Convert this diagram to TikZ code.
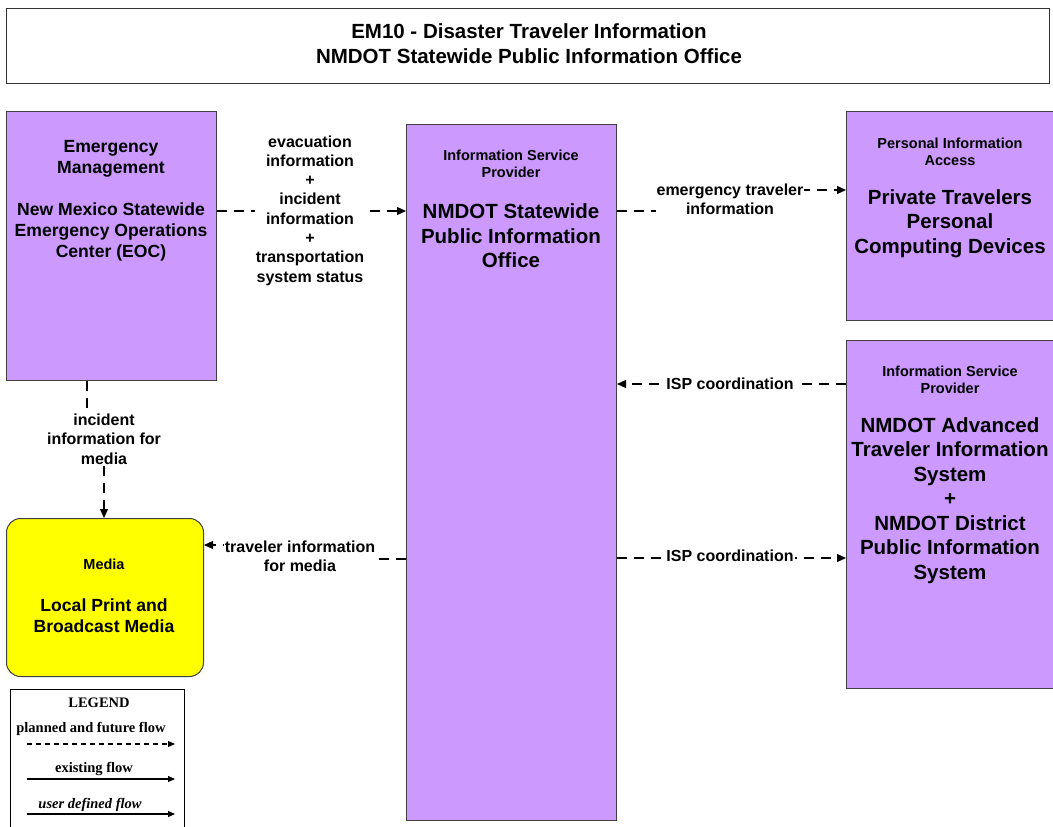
\documentclass[tikz,border=0pt]{standalone}
\usepackage{fontspec}
\setmainfont{Liberation Sans}
\newfontfamily\legfont{Liberation Serif}
\usetikzlibrary{arrows.meta}
\definecolor{purp}{RGB}{204,153,255}
\definecolor{yel}{RGB}{255,255,0}
\tikzset{
 box/.style={draw=black!75, line width=1pt, fill=purp, anchor=north west, inner sep=0pt},
 flow/.style={dash pattern=on 10pt off 7pt, line width=1.2pt, -{Triangle[length=9pt,width=8pt]}},
 lbl/.style={fill=white, font=\bfseries\fontsize{16}{19.3}\selectfont, align=center, inner sep=1pt},
 small/.style={font=\bfseries\fontsize{14.5}{17}\selectfont, align=center, inner sep=0pt},
 big/.style={font=\bfseries\fontsize{20.5}{24.5}\selectfont, align=center, inner sep=0pt},
 mid/.style={font=\bfseries\fontsize{17.6}{21}\selectfont, align=center, inner sep=0pt},
 legtxt/.style={font=\legfont\bfseries\fontsize{14.5}{16}\selectfont, inner sep=0pt},
 legarrow/.style={line width=1.1pt, -{Triangle[length=7pt,width=6pt]}},
}
\begin{document}
\begin{tikzpicture}[x=1pt,y=-1pt]
\useasboundingbox (0,0) rectangle (1053,827);
% title
\node[draw=black!80, line width=1pt, anchor=north west, minimum width=1043pt, minimum height=75pt, inner sep=0pt] (title) at (6,8) {};
\node[font=\bfseries\fontsize{20.5}{25}\selectfont, align=center, inner sep=0pt] (titletxt) at (529,43.5) {EM10 - Disaster Traveler Information\\NMDOT Statewide Public Information Office};
% boxes
\node[box, minimum width=210pt, minimum height=269pt] (em) at (6,111) {};
\node[box, minimum width=210pt, minimum height=696pt] (isp) at (406,124) {};
\node[box, minimum width=212pt, minimum height=209pt] (priv) at (846,111) {};
\node[box, minimum width=212pt, minimum height=348pt] (atis) at (846,340) {};
\node[box, fill=yel, rounded corners=14pt, minimum width=197pt, minimum height=158pt] (media) at (6,518) {};
% box texts
\node[mid] (emt1) at (111,158.5) {Emergency\\Management};
\node[mid] (emt2) at (111,232) {New Mexico Statewide\\Emergency Operations\\Center (EOC)};
\node[small] (ispt1) at (511,163.5) {Information Service\\Provider};
\node[big] (ispt2) at (511,236) {NMDOT Statewide\\Public Information\\Office};
\node[small] (privt1) at (950,151.5) {Personal Information\\Access};
\node[big] (privt2) at (950,223.5) {Private Travelers\\Personal\\Computing Devices};
\node[small] (atist1) at (950,379.5) {Information Service\\Provider};
\node[big] (atist2) at (950,500.5) {NMDOT Advanced\\Traveler Information\\System\\+\\NMDOT District\\Public Information\\System};
\node[small] (mediat1) at (104,564) {Media};
\node[mid] (mediat2) at (104,615.5) {Local Print and\\Broadcast Media};
% connectors
\coordinate (r211) at (0,211);
\coordinate (r190) at (0,190);
\coordinate (r384) at (0,384);
\coordinate (r558) at (0,558);
\coordinate (r545) at (0,545);
\coordinate (r559) at (0,559);
\coordinate (c87) at (87,0);
\coordinate (c104) at (104,0);
\draw[flow] (em.east |- r211) -- (isp.west |- r211);
\node[lbl] (l1) at (310,210.5) {evacuation\\information\\+\\incident\\information\\+\\transportation\\system status};
\draw[flow] (isp.east |- r211) -- (730,211) -- (730,190) -- (priv.west |- r190);
\node[lbl] (l2) at (730,199) {emergency traveler\\information};
\draw[flow] (atis.west |- r384) -- (isp.east |- r384);
\node[lbl] (l3) at (730,384) {ISP coordination};
\draw[flow] (isp.east |- r558) -- (atis.west |- r558);
\node[lbl] (l4) at (730,556) {ISP coordination};
\draw[flow] (em.south -| c87) -- (87,439) -- (104,439) -- (media.north -| c104);
\node[lbl] (l5) at (104,439) {incident\\information for\\media};
\draw[flow] (isp.west |- r559) -- (300,559) -- (300,545) -- (media.east |- r545);
\node[lbl] (l6) at (300,556) {traveler information\\for media};
% legend
\node[draw=black, line width=1.3pt, anchor=north west, minimum width=174pt, minimum height=150pt, inner sep=0pt] (legend) at (10,689) {};
\node[legtxt] (legt) at (99,703) {LEGEND};
\node[legtxt] (leg1) at (91,729) {planned and future flow};
\coordinate (la1) at (27,744);
\coordinate (lb1) at (175,744);
\draw[legarrow, dash pattern=on 5pt off 4pt] (la1) -- (lb1);
\node[legtxt] (leg2) at (94,769) {existing flow};
\coordinate (la2) at (27,779);
\coordinate (lb2) at (175,779);
\draw[legarrow] (la2) -- (lb2);
\node[legtxt, font=\legfont\bfseries\itshape\fontsize{14.5}{16}\selectfont] (leg3) at (90,805) {user defined flow};
\coordinate (la3) at (27,814);
\coordinate (lb3) at (175,814);
\draw[legarrow] (la3) -- (lb3);
\end{tikzpicture}
\end{document}
